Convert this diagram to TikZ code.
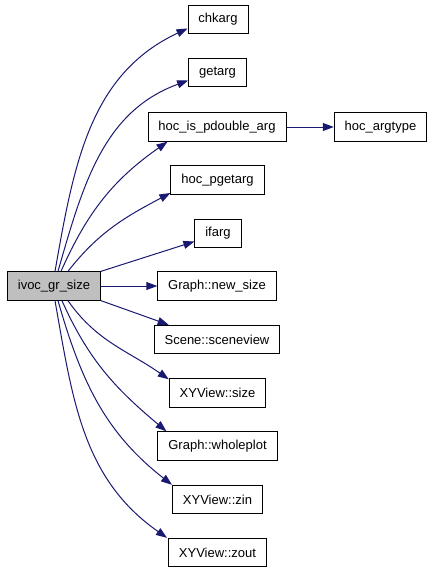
\documentclass[tikz,border=0pt]{standalone}
\usepackage{fontspec}
\setmainfont{Liberation Sans}
\usetikzlibrary{arrows.meta}
\definecolor{edgeblue}{HTML}{191970}
\definecolor{graybox}{HTML}{BFBFBF}
\begin{document}
\begin{tikzpicture}[x=1pt,y=-1pt,
  fn/.style={draw=black,line width=0.9pt,fill=white,rectangle,minimum height=28.5pt,inner xsep=10.5pt,inner ysep=0pt,font=\fontsize{13}{15}\selectfont},
  cur/.style={fn,fill=graybox},
  edge/.style={draw=edgeblue,line width=1pt,-{Triangle[length=11pt,width=8pt]}}]
\useasboundingbox (0,0) rectangle (432,573);
\node[cur] (src) at (54,286) {ivoc\_gr\_size};
\node[fn] (chkarg) at (218,19.5) {chkarg};
\node[fn] (getarg) at (217.5,72.5) {getarg};
\node[fn] (pdouble) at (217,127) {hoc\_is\_pdouble\_arg};
\node[fn] (argtype) at (380.5,127) {hoc\_argtype};
\node[fn] (pgetarg) at (217.5,180) {hoc\_pgetarg};
\node[fn] (ifarg) at (218,233.5) {ifarg};
\node[fn] (newsize) at (217,286) {Graph::new\_size};
\node[fn] (scene) at (217,339.5) {Scene::sceneview};
\node[fn] (xysize) at (217.5,393) {XYView::size};
\node[fn] (whole) at (217.5,446) {Graph::wholeplot};
\node[fn] (zin) at (217.5,499.5) {XYView::zin};
\node[fn] (zout) at (217.5,552.5) {XYView::zout};
% top fan
\draw[edge] ([xshift=1pt]src.north) to[out=80,in=205] ([yshift=-9pt]chkarg.west);
\draw[edge] ([xshift=4pt]src.north) to[out=74,in=200] ([yshift=-8pt]getarg.west);
\draw[edge] ([xshift=7pt]src.north) to[out=66,in=215] ([xshift=20pt]pdouble.south west);
\draw[edge] ([xshift=14pt]src.north) to[out=52,in=208] ([yshift=-13pt]pgetarg.west);
\draw[edge] (src.north east) -- ([yshift=-8pt]ifarg.west);
\draw[edge] (src.east) -- (newsize.west);
\draw[edge] (pdouble.east) -- (argtype.west);
% bottom fan
\draw[edge] (src.south east) -- ([xshift=15pt]scene.north west);
\draw[edge] ([xshift=14pt]src.south) to[out=-55,in=145] ([yshift=-1pt]xysize.north west);
\draw[edge] ([xshift=8pt]src.south) to[out=-66,in=140] ([xshift=9pt]whole.north west);
\draw[edge] ([xshift=4pt]src.south) to[out=-74,in=142] ([xshift=0pt]zin.north west);
\draw[edge] ([xshift=1pt]src.south) to[out=-80,in=145] ([xshift=-1pt]zout.north west);
\end{tikzpicture}
\end{document}
